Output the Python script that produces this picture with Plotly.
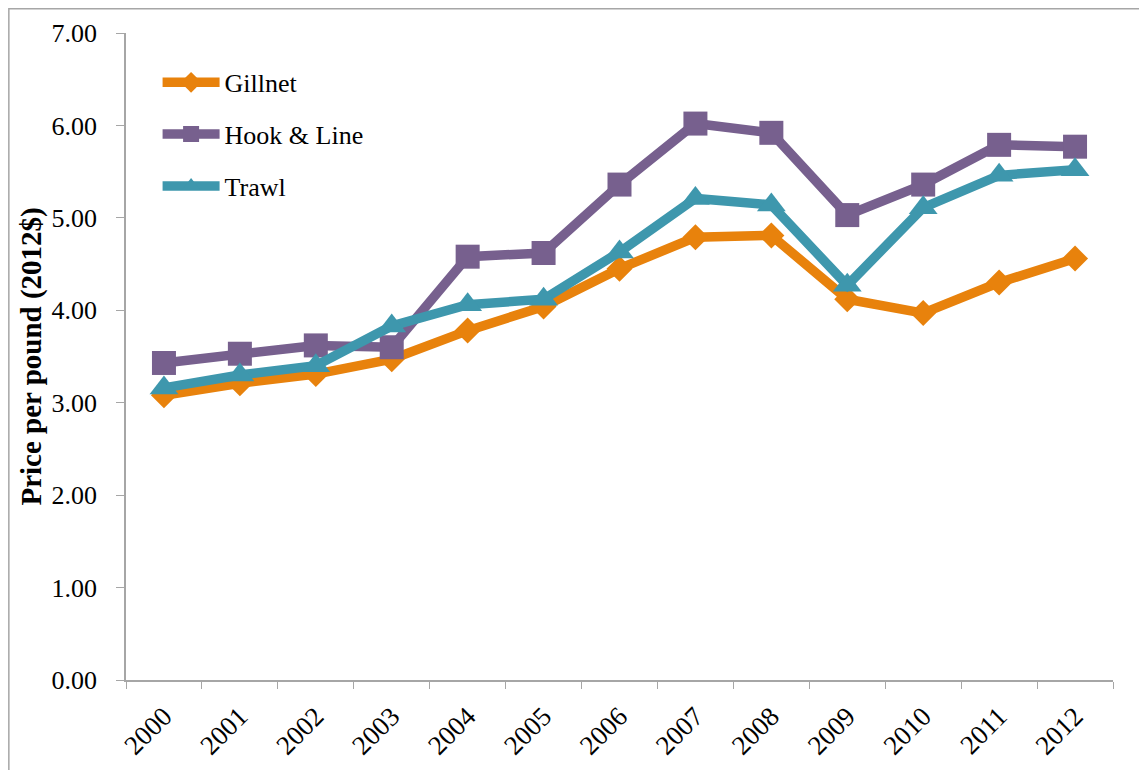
import plotly.graph_objects as go

years = ["2000", "2001", "2002", "2003", "2004", "2005", "2006",
         "2007", "2008", "2009", "2010", "2011", "2012"]
gillnet = [3.08, 3.21, 3.31, 3.47, 3.78, 4.04, 4.45, 4.79, 4.81, 4.12, 3.97, 4.30, 4.56]
hook_line = [3.43, 3.53, 3.62, 3.60, 4.58, 4.62, 5.36, 6.02, 5.92, 5.03, 5.36, 5.79, 5.77]
trawl = [3.16, 3.30, 3.40, 3.83, 4.06, 4.12, 4.63, 5.21, 5.14, 4.27, 5.11, 5.46, 5.52]
y_ticks = [0, 1, 2, 3, 4, 5, 6, 7]

FONT = "Liberation Serif"
series = [
    ("Gillnet", gillnet, "#E8820C", "diamond", 20),
    ("Hook & Line", hook_line, "#77608E", "square", 24),
    ("Trawl", trawl, "#3E97AD", "triangle-up", 25),
]

fig = go.Figure()
for i, (name, vals, color, sym, size) in enumerate(series):
    fig.add_trace(go.Scatter(
        x=years, y=vals, name=name, mode="lines+markers",
        legendgroup=f"g{i}",
        line=dict(color=color, width=9.5),
        marker=dict(symbol=sym, size=size, color=color),
    ))

fig.update_layout(
    width=1147, height=770,
    margin=dict(l=118, r=42, t=25, b=98),
    paper_bgcolor="white", plot_bgcolor="white",
    font=dict(family=FONT, size=26, color="black"),
    showlegend=True,
    legend=dict(x=0.032, y=0.96, xanchor="left", yanchor="top",
                bgcolor="rgba(0,0,0,0)", traceorder="grouped",
                tracegroupgap=15, itemwidth=57,
                font=dict(family=FONT, size=26, color="black")),
    xaxis=dict(type="category", range=[-0.5, len(years) - 0.5],
               tickson="boundaries", ticks="outside",
               ticklen=7, tickcolor="#A6A6A6", showline=True,
               linecolor="#A6A6A6", linewidth=1.5, showgrid=False,
               automargin=False, ticklabelstandoff=8,
               tickangle=-45, tickfont=dict(family=FONT, size=27)),
    yaxis=dict(range=[0, 7], tickvals=y_ticks, tickformat=".2f",
               ticks="outside", ticklen=8, tickcolor="#A6A6A6",
               showline=True, linecolor="#A6A6A6", linewidth=1.5,
               showgrid=False, zeroline=False, automargin=False,
               ticklabelstandoff=14,
               tickfont=dict(family=FONT, size=26)),
    annotations=[dict(text="<b>Price per pound (2012$)</b>", textangle=-90,
                      xref="paper", yref="paper", x=-0.0962, y=0.5,
                      xanchor="center", yanchor="middle", showarrow=False,
                      font=dict(family=FONT, size=29, color="black"))],
    shapes=[dict(type="rect", xref="paper", yref="paper",
                 x0=-0.1187, x1=1.06, y0=-0.2, y1=1.0375,
                 line=dict(color="#A6A6A6", width=1.5), layer="below")],
)

fig.write_html("out.html")
